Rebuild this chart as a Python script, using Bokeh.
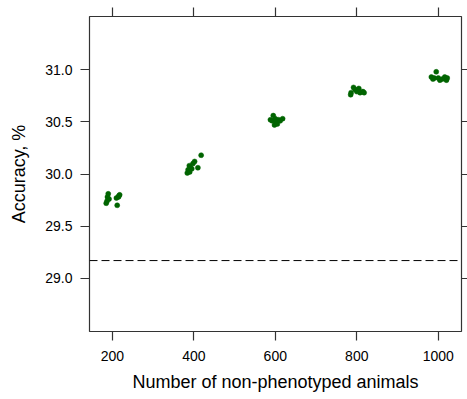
from bokeh.plotting import figure
from bokeh.models import LinearAxis, FixedTicker, Span, Range1d, CustomJSTickFormatter, PrintfTickFormatter
from bokeh.embed import file_html
from bokeh.resources import INLINE

# data: jittered x (number of non-phenotyped animals) and accuracy %
x_200 = [185, 188, 190, 192, 187, 212, 215, 218, 210, 216]
y_200 = [29.72, 29.78, 29.81, 29.76, 29.74, 29.70, 29.78, 29.80, 29.77, 29.79]
x_400 = [384, 386, 389, 392, 395, 398, 402, 410, 418, 390]
y_400 = [30.01, 30.04, 30.08, 30.06, 30.05, 30.10, 30.12, 30.06, 30.18, 30.02]
x_600 = [588, 592, 595, 598, 602, 605, 608, 612, 618, 600]
y_600 = [30.52, 30.51, 30.56, 30.47, 30.50, 30.48, 30.52, 30.51, 30.53, 30.53]
x_800 = [785, 786, 792, 796, 800, 803, 808, 815, 818, 805]
y_800 = [30.76, 30.78, 30.83, 30.81, 30.79, 30.80, 30.78, 30.79, 30.78, 30.82]
x_1000 = [983, 987, 995, 1000, 1004, 1010, 1016, 1020, 990, 1022]
y_1000 = [30.93, 30.91, 30.98, 30.92, 30.90, 30.91, 30.93, 30.90, 30.92, 30.92]
baseline = 29.17

x_ticks = [200, 400, 600, 800, 1000]
y_ticks = [29.0, 29.5, 30.0, 30.5, 31.0]
x_title = "Number of non-phenotyped animals"
y_title = "Accuracy, %"

xs = x_200 + x_400 + x_600 + x_800 + x_1000
ys = y_200 + y_400 + y_600 + y_800 + y_1000

FONT = "Liberation Sans"
AX = "#333333"

p = figure(width=467, height=399, output_backend="svg", toolbar_location=None,
           x_range=Range1d(144, 1057), y_range=Range1d(28.49, 31.51),
           x_axis_location=None, y_axis_location=None,
           min_border_left=89, min_border_right=6, min_border_top=16, min_border_bottom=68)
p.grid.visible = False
p.outline_line_color = AX
p.outline_line_width = 1.2
p.background_fill_color = "white"
p.border_fill_color = "white"

empty = CustomJSTickFormatter(code="return ''")

def style(ax, labels=True, tick_out=9):
    ax.axis_line_color = None
    ax.major_tick_line_color = AX
    ax.major_tick_line_width = 1.2
    ax.major_tick_out = tick_out
    ax.major_tick_in = 0
    ax.minor_tick_line_color = None
    ax.major_label_text_font = FONT
    ax.major_label_text_font_size = "14px"
    ax.major_label_text_color = "#000000"
    ax.major_label_standoff = 10
    ax.axis_label_text_font = FONT
    ax.axis_label_text_font_size = "18px"
    ax.axis_label_text_font_style = "normal"
    ax.axis_label_text_color = "#000000"
    if not labels:
        ax.formatter = empty
        ax.major_label_standoff = 0
        ax.major_label_text_font_size = "1px"

bx = LinearAxis(ticker=FixedTicker(ticks=x_ticks), axis_label=x_title)
style(bx)
bx.axis_label_standoff = 8
p.add_layout(bx, "below")

tx = LinearAxis(ticker=FixedTicker(ticks=x_ticks))
style(tx, labels=False, tick_out=9)
p.add_layout(tx, "above")

ly = LinearAxis(ticker=FixedTicker(ticks=y_ticks), axis_label=y_title,
                formatter=PrintfTickFormatter(format="%.1f"))
style(ly)
ly.major_label_standoff = 8
ly.axis_label_standoff = 13
p.add_layout(ly, "left")

ry = LinearAxis(ticker=FixedTicker(ticks=y_ticks))
style(ry, labels=False, tick_out=6)
p.add_layout(ry, "right")

p.scatter(xs, ys, size=5, color="#006400", line_color="#006400", line_width=0.5)
p.add_layout(Span(location=baseline, dimension="width", line_color="#000000",
                  line_dash="8 4", line_width=1))

open("out.html", "w").write(file_html(p, INLINE))
